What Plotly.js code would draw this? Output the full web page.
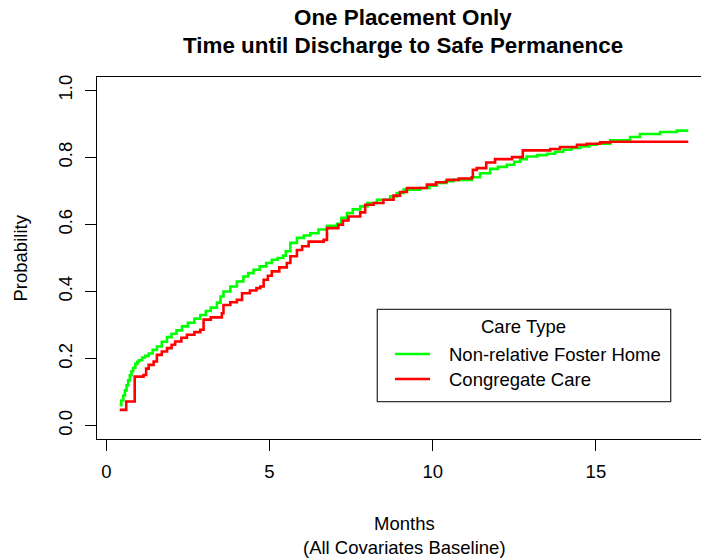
<!DOCTYPE html>
<html>
<head>
<meta charset="utf-8">
<script src="https://cdn.plot.ly/plotly-3.0.1.min.js"></script>
<style>html,body{margin:0;padding:0;background:#fff;overflow:hidden}</style>
</head>
<body>
<div id="chart" style="width:701px;height:558px"></div>
<script>
// Data
const seriesNames = ["Non-relative Foster Home", "Congregate Care"];
const fosterMonths = [0.41,0.46,0.52,0.57,0.62,0.67,0.72,0.77,0.82,0.89,0.95,1.0,1.1,1.19,1.3,1.42,1.55,1.7,1.86,2.0,2.15,2.32,2.5,2.7,2.88,3.05,3.2,3.39,3.5,3.59,3.8,4.0,4.2,4.35,4.51,4.7,4.9,5.07,5.25,5.42,5.5,5.64,5.84,6.05,6.25,6.5,6.76,7.07,7.2,7.37,7.55,7.78,8.0,8.29,8.7,8.9,9.11,9.62,9.9,10.13,10.4,10.64,11.2,11.45,11.76,12.0,12.27,12.5,12.68,12.88,13.2,13.5,13.75,14.0,14.25,14.52,14.8,15.03,15.44,15.95,16.05,16.35,16.97,17.48,17.83];
const fosterProb = [0.061,0.075,0.09,0.105,0.12,0.135,0.15,0.162,0.172,0.184,0.19,0.195,0.203,0.208,0.215,0.226,0.236,0.25,0.264,0.274,0.284,0.296,0.307,0.319,0.33,0.342,0.352,0.367,0.385,0.4,0.415,0.43,0.445,0.455,0.465,0.475,0.485,0.495,0.5,0.507,0.52,0.545,0.56,0.567,0.574,0.585,0.596,0.602,0.62,0.634,0.645,0.654,0.664,0.674,0.684,0.694,0.704,0.709,0.716,0.724,0.729,0.733,0.741,0.753,0.766,0.772,0.778,0.787,0.795,0.803,0.807,0.811,0.817,0.823,0.828,0.833,0.838,0.841,0.851,0.851,0.861,0.87,0.876,0.88,0.88];
const congMonths = [0.41,0.61,0.87,1.14,1.22,1.3,1.45,1.55,1.7,1.86,2.0,2.11,2.3,2.47,2.7,2.88,2.98,3.2,3.54,3.59,3.8,4.0,4.16,4.4,4.6,4.72,4.82,4.95,5.07,5.3,5.53,5.64,5.84,6.0,6.2,6.66,6.76,7.11,7.25,7.42,7.78,7.93,8.19,8.49,8.8,9.0,9.21,9.82,10.1,10.43,10.8,11.2,11.23,11.35,11.64,11.91,12.43,12.76,13.6,13.9,14.42,14.72,15.13,15.44,17.83];
const congProb = [0.047,0.072,0.146,0.151,0.17,0.181,0.191,0.211,0.221,0.231,0.241,0.251,0.262,0.271,0.279,0.286,0.316,0.323,0.335,0.36,0.368,0.375,0.395,0.403,0.41,0.415,0.435,0.447,0.46,0.472,0.485,0.505,0.524,0.535,0.549,0.554,0.589,0.599,0.612,0.624,0.636,0.659,0.664,0.674,0.686,0.697,0.709,0.719,0.726,0.733,0.737,0.741,0.763,0.768,0.785,0.795,0.801,0.821,0.825,0.831,0.838,0.841,0.845,0.847,0.847];
const xTicks = [0, 5, 10, 15];
const xTickLabels = ["0", "5", "10", "15"];
const yTicks = [0, 0.2, 0.4, 0.6, 0.8, 1.0];
const yTickLabels = ["0.0", "0.2", "0.4", "0.6", "0.8", "1.0"];
const colors = ["#00ff00", "#ff0000"];

const FONT = "Liberation Sans, Arial, sans-serif";
const W = 701, H = 558, L = 97, R = 0, T = 77, B = 119;
const pw = W - L - R, ph = H - T - B;
const px = v => (v - L) / pw;       // pixel -> paper x
const py = v => (H - B - v) / ph;   // pixel -> paper y

const traces = [
  {x: fosterMonths, y: fosterProb, name: seriesNames[0], mode: "lines",
   line: {color: colors[0], width: 2.6, shape: "hv"}},
  {x: congMonths, y: congProb, name: seriesNames[1], mode: "lines",
   line: {color: colors[1], width: 2.6, shape: "hv"}}
];

const ann = (x, y, text, opts) => Object.assign({
  xref: "paper", yref: "paper", x: px(x), y: py(y), text: text, showarrow: false,
  xanchor: "center", yanchor: "middle", font: {family: FONT, size: 18.5, color: "#000"}
}, opts || {});

const layout = {
  width: W, height: H,
  margin: {l: L, r: R, t: T, b: B, pad: 0},
  paper_bgcolor: "#fff", plot_bgcolor: "#fff",
  showlegend: false,
  font: {family: FONT, size: 18.5, color: "#000"},
  xaxis: {
    range: [-0.285, 18.22], tickvals: xTicks, ticktext: xTickLabels,
    ticks: "outside", ticklen: 11, tickwidth: 1, tickcolor: "#000", ticklabelstandoff: 4,
    showline: true, linecolor: "#000", linewidth: 1.3, mirror: true,
    showgrid: false, zeroline: false, tickfont: {family: FONT, size: 18.5, color: "#000"}
  },
  yaxis: {
    range: [-0.04, 1.04], tickvals: yTicks, ticktext: yTickLabels,
    ticks: "outside", ticklen: 11, tickwidth: 1, tickcolor: "#000", tickangle: -90, ticklabelstandoff: 5,
    showline: true, linecolor: "#000", linewidth: 1.3, mirror: false,
    showgrid: false, zeroline: false, tickfont: {family: FONT, size: 18.5, color: "#000"}
  },
  shapes: [
    {type: "rect", xref: "paper", yref: "paper", x0: px(377.3), x1: px(670.7), y0: py(401.7), y1: py(309.3),
     line: {color: "#333", width: 1.3}, fillcolor: "rgba(0,0,0,0)"},
    {type: "line", xref: "paper", yref: "paper", x0: px(395), x1: px(430), y0: py(354), y1: py(354),
     line: {color: colors[0], width: 2.6}},
    {type: "line", xref: "paper", yref: "paper", x0: px(395), x1: px(430), y0: py(379), y1: py(379),
     line: {color: colors[1], width: 2.6}}
  ],
  annotations: [
    ann(403, 18, "<b>One Placement Only</b>", {font: {family: FONT, size: 22.4, color: "#000"}}),
    ann(403, 45, "<b>Time until Discharge to Safe Permanence</b>", {font: {family: FONT, size: 22.4, color: "#000"}}),
    ann(404, 523, "Months"),
    ann(404, 547, "(All Covariates Baseline)"),
    ann(19.5, 258, "Probability", {textangle: -90}),
    ann(523.7, 326.7, "Care Type"),
    ann(447, 354, seriesNames[0], {xanchor: "left"}),
    ann(447, 379, seriesNames[1], {xanchor: "left"})
  ]
};

Plotly.newPlot("chart", traces, layout, {displayModeBar: false, staticPlot: true});
</script>
</body>
</html>
